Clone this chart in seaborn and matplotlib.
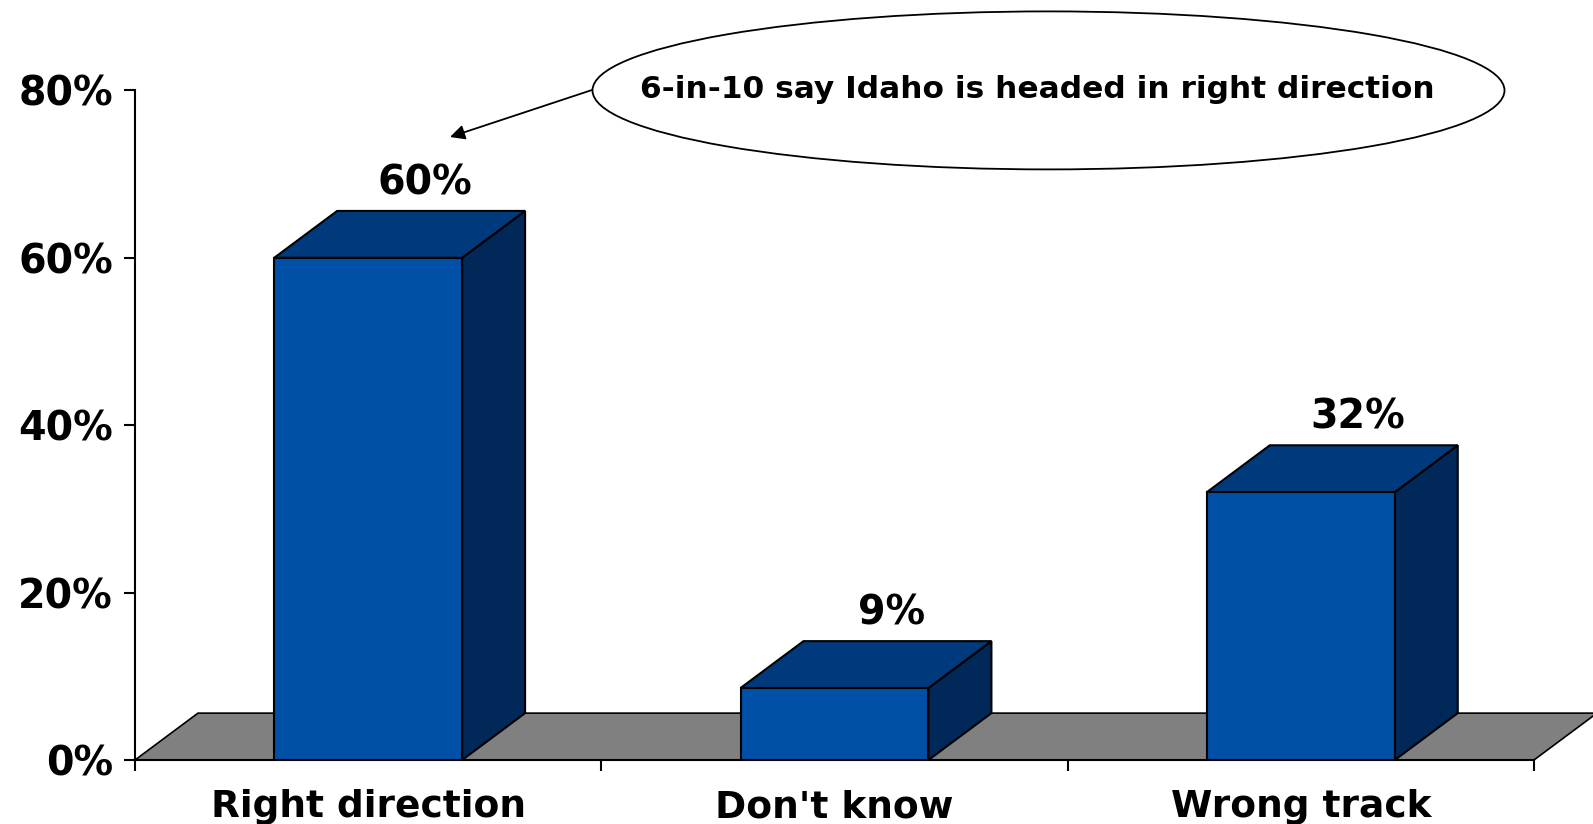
import matplotlib
matplotlib.use("Agg")
import matplotlib.pyplot as plt
from matplotlib.patches import Polygon, Ellipse
from matplotlib.ticker import FixedLocator
import seaborn as sns
import pandas as pd

# data
categories = ["Right direction", "Don't know", "Wrong track"]
values = [60, 8.6, 32]
value_labels = ["60%", "9%", "32%"]
y_ticks = [0, 20, 40, 60, 80]
y_tick_labels = ["0%", "20%", "40%", "60%", "80%"]
callout = "6-in-10 say Idaho is headed in right direction"

FRONT = "#0050A8"
TOP = "#003A7D"
SIDE = "#00295A"
FLOOR = "#808080"

sns.set_style("white")
plt.rcParams["font.family"] = ["DejaVu Sans"]
plt.rcParams.update({"text.color": "black", "axes.edgecolor": "black",
                     "xtick.color": "black", "ytick.color": "black",
                     "axes.labelcolor": "black"})

df = pd.DataFrame({"answer": categories, "share": values})

fig = plt.figure(figsize=(15.93, 8.24), dpi=100)
ax = fig.add_axes([135 / 1593, 64 / 824, 1399 / 1593, 669.6 / 824])

bar_w = 0.403
dx = 0.135   # depth offset in category units
dy = 5.6     # depth offset in percent units

sns.barplot(data=df, x="answer", y="share", color=FRONT, width=bar_w,
            edgecolor="black", linewidth=1.5, saturation=1, ax=ax, zorder=3)

ax.set_xlim(-0.5, 2.5)
ax.set_ylim(0, 80)

# floor of the 3d box
x0, x1 = ax.get_xlim()
ax.add_patch(Polygon([(x0, 0), (x1, 0), (x1 + dx, dy), (x0 + dx, dy)],
                     closed=True, facecolor=FLOOR, edgecolor="black",
                     linewidth=1.2, zorder=1, clip_on=False))

for bar, lab in zip(ax.patches[:len(values)], value_labels):
    left = bar.get_x()
    right = left + bar.get_width()
    v = bar.get_height()
    ax.add_patch(Polygon([(right, 0), (right + dx, dy), (right + dx, v + dy), (right, v)],
                         closed=True, facecolor=SIDE, edgecolor="black",
                         linewidth=1.5, zorder=2, clip_on=False))
    ax.add_patch(Polygon([(left, v), (right, v), (right + dx, v + dy), (left + dx, v + dy)],
                         closed=True, facecolor=TOP, edgecolor="black",
                         linewidth=1.5, zorder=2, clip_on=False))
    ax.annotate(lab, xy=((left + right) / 2 + dx * 0.9, v + dy), xytext=(0, 12),
                textcoords="offset points", ha="center", va="baseline",
                fontsize=28.5, fontweight="bold", annotation_clip=False)

# axes styling
for s in ["top", "right"]:
    ax.spines[s].set_visible(False)
ax.spines["left"].set_linewidth(1.5)
ax.spines["bottom"].set_linewidth(1.5)
ax.spines["left"].set_zorder(4)

ax.set_yticks(y_ticks)
ax.set_yticklabels(y_tick_labels, fontsize=28.5, fontweight="bold")
ax.tick_params(axis="y", length=8, width=1.5, pad=8, direction="out", left=True)

ax.set_xticks(range(len(categories)))
ax.set_xticklabels(categories, fontsize=27, fontweight="bold")
ax.xaxis.set_minor_locator(FixedLocator([-0.5, 0.5, 1.5, 2.5]))
ax.tick_params(axis="x", which="major", length=0, pad=21)
ax.tick_params(axis="x", which="minor", length=8, width=1.5, direction="out", bottom=True)
ax.set_xlabel("")
ax.set_ylabel("")

# callout bubble
fig.patches.append(Ellipse((1048.5 / 1593, 733.6 / 824), 912 / 1593, 158 / 824,
                           transform=fig.transFigure, facecolor="white",
                           edgecolor="black", linewidth=1.3, zorder=5))
fig.text(1037 / 1593, 734 / 824, callout, ha="center", va="center",
         fontsize=22.5, fontweight="bold", zorder=6)
ax.annotate("", xy=(450 / 1593, 687 / 824), xytext=(592 / 1593, 734 / 824),
            xycoords="figure fraction", textcoords="figure fraction",
            arrowprops=dict(arrowstyle="-|>", color="black", lw=1.3,
                            mutation_scale=22, shrinkA=0, shrinkB=0))

fig.savefig("out.png", dpi=100)
